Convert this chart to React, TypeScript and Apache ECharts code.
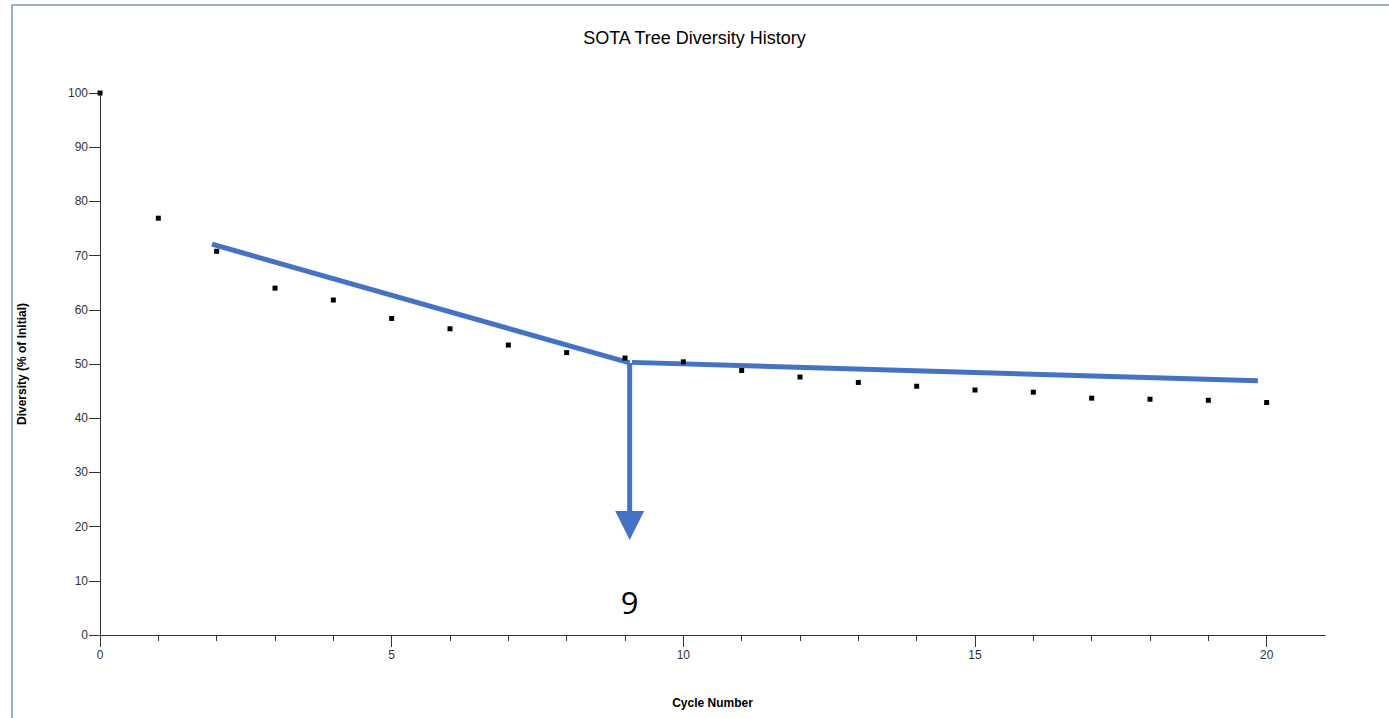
import React, { useEffect, useRef } from "react";
import * as echarts from "echarts";

const cycles = [0, 1, 2, 3, 4, 5, 6, 7, 8, 9, 10, 11, 12, 13, 14, 15, 16, 17, 18, 19, 20];
const diversity = [100, 76.9, 70.8, 64.0, 61.8, 58.4, 56.5, 53.5, 52.1, 51.1, 50.4, 48.8, 47.6, 46.6, 45.9, 45.2, 44.8, 43.7, 43.5, 43.3, 42.9];

const trendEarly = [[1.92, 72.1], [9.08, 50.2]];
const trendLate = [[9.12, 50.3], [19.85, 46.9]];
const arrowStem = [[9.08, 50.2], [9.08, 22.9]];
const arrowHead = [[9.08, 20.2]];
const elbowLabel = "9";

const majorXTicks = [0, 5, 10, 15, 20];
const minorXTicks = [1, 2, 3, 4, 6, 7, 8, 9, 11, 12, 13, 14, 16, 17, 18, 19];

const BLUE = "#4472C4";
const AXIS = "#333333";

export default function App() {
  const ref = useRef<HTMLDivElement>(null);
  useEffect(() => {
    document.body.style.margin = "0";
    const chart = echarts.init(ref.current!, null, { renderer: "svg" });
    const points = cycles.map((c, i) => [c, diversity[i]]);
    chart.setOption({
      animation: false,
      backgroundColor: "#ffffff",
      title: {
        text: "SOTA Tree Diversity History",
        left: "center",
        top: 24,
        textStyle: { fontFamily: "Liberation Sans, Arial", fontSize: 18, fontWeight: "normal", color: "#000" },
      },
      grid: { left: 100, right: 64, top: 93, bottom: 83 },
      xAxis: [
        {
          type: "value",
          min: 0,
          max: 21,
          interval: 5,
          name: "Cycle Number",
          nameLocation: "middle",
          nameGap: 62,
          nameTextStyle: { fontFamily: "Liberation Sans, Arial", fontSize: 12, fontWeight: "bold", color: "#000", verticalAlign: "top" },
          axisLine: { show: true, lineStyle: { color: AXIS, width: 1 } },
          axisTick: { show: true, length: 12, customValues: majorXTicks, lineStyle: { color: AXIS } },
          axisLabel: { customValues: majorXTicks, fontFamily: "Liberation Sans, Arial", fontSize: 12, color: "#333", margin: 14 },
          splitLine: { show: false },
        },
        {
          type: "value",
          min: 0,
          max: 21,
          interval: 5,
          position: "bottom",
          axisLine: { show: false },
          axisTick: { show: true, length: 6, customValues: minorXTicks, lineStyle: { color: AXIS } },
          axisLabel: { show: false },
          splitLine: { show: false },
        },
      ],
      yAxis: {
        type: "value",
        min: 0,
        max: 100,
        interval: 10,
        name: "Diversity (% of Initial)",
        nameLocation: "middle",
        nameGap: 72,
        nameTextStyle: { fontFamily: "Liberation Sans, Arial", fontSize: 12, fontWeight: "bold", color: "#000" },
        axisLine: { show: true, lineStyle: { color: AXIS, width: 1 } },
        axisTick: { show: true, length: 11, lineStyle: { color: AXIS } },
        axisLabel: { fontFamily: "Liberation Sans, Arial", fontSize: 12, color: "#333", margin: 12 },
        splitLine: { show: false },
      },
      series: [
        {
          type: "line",
          data: trendEarly,
          symbol: "none",
          lineStyle: { color: BLUE, width: 5 },
          z: 3,
        },
        {
          type: "line",
          data: trendLate,
          symbol: "none",
          lineStyle: { color: BLUE, width: 5 },
          z: 3,
        },
        {
          type: "line",
          data: arrowStem,
          symbol: "none",
          lineStyle: { color: BLUE, width: 5 },
          z: 3,
        },
        {
          type: "scatter",
          data: arrowHead,
          symbol: "triangle",
          symbolRotate: 180,
          symbolSize: [29, 29],
          itemStyle: { color: BLUE, opacity: 1 },
          label: {
            show: true,
            formatter: () => elbowLabel,
            position: "bottom",
            distance: 46,
            fontFamily: "Open Sans, Noto Sans, sans-serif",
            fontSize: 31,
            color: "#000",
          },
          z: 3,
        },
        {
          type: "scatter",
          data: points,
          symbol: "rect",
          symbolSize: 5,
          itemStyle: { color: "#000", opacity: 1 },
          z: 4,
        },
      ],
      graphic: [
        {
          type: "rect",
          shape: { x: 12, y: 5, width: 1400, height: 800 },
          style: { fill: "none", stroke: "#8497b0", lineWidth: 1.5 },
          silent: true,
        },
      ],
    });
    return () => chart.dispose();
  }, []);
  return <div ref={ref} style={{ width: 1389, height: 718 }} />;
}
